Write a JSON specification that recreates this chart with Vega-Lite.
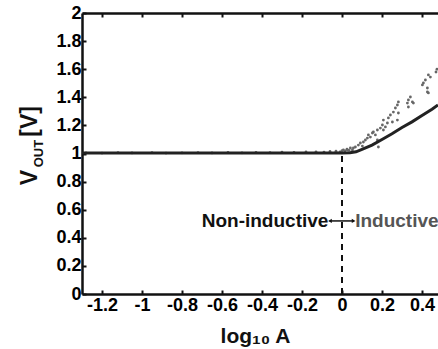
{
  "$schema": "https://vega.github.io/schema/vega-lite/v6.json",
  "width": 356,
  "height": 281,
  "autosize": {"type": "none"},
  "padding": {"left": 82, "top": 13, "right": 0, "bottom": 55},
  "background": "white",
  "config": {
    "font": "Liberation Sans",
    "view": {"stroke": null},
    "axis": {
      "grid": false,
      "domainColor": "#111",
      "domainWidth": 2.5,
      "tickColor": "#111",
      "tickWidth": 2,
      "tickSize": -4,
      "labelFont": "Liberation Sans",
      "labelFontWeight": "bold",
      "labelFontSize": 18,
      "labelColor": "#000",
      "labelOverlap": false,
      "labelFlush": false,
      "titleFont": "Liberation Sans",
      "titleFontWeight": "bold",
      "titleColor": "#111"
    }
  },
  "datasets": {
    "scatter": [
      {"x": -1.28, "y": 1.005}, {"x": -1.2, "y": 1.003}, {"x": -1.12, "y": 1.006}, {"x": -1.05, "y": 1.004},
      {"x": -0.95, "y": 1.006}, {"x": -0.88, "y": 1.003}, {"x": -0.8, "y": 1.005}, {"x": -0.72, "y": 1.006},
      {"x": -0.65, "y": 1.004}, {"x": -0.57, "y": 1.007}, {"x": -0.5, "y": 1.005}, {"x": -0.43, "y": 1.008},
      {"x": -0.36, "y": 1.006}, {"x": -0.3, "y": 1.009}, {"x": -0.24, "y": 1.008}, {"x": -0.18, "y": 1.011},
      {"x": -0.13, "y": 1.012}, {"x": -0.09, "y": 1.01}, {"x": -0.06, "y": 1.014}, {"x": -0.03, "y": 1.016},
      {"x": -0.01, "y": 1.012}, {"x": 0.0, "y": 1.02}, {"x": 0.015, "y": 1.018}, {"x": 0.025, "y": 1.03},
      {"x": 0.035, "y": 1.022},
      {"x": 0.432, "y": 1.559}, {"x": 0.442, "y": 1.544}, {"x": 0.417, "y": 1.523}, {"x": 0.407, "y": 1.502},
      {"x": 0.402, "y": 1.488}, {"x": 0.427, "y": 1.466}, {"x": 0.427, "y": 1.438}, {"x": 0.432, "y": 1.431},
      {"x": 0.47, "y": 1.58}, {"x": 0.475, "y": 1.6},
      {"x": 0.342, "y": 1.402}, {"x": 0.332, "y": 1.381}, {"x": 0.352, "y": 1.367}, {"x": 0.327, "y": 1.359},
      {"x": 0.357, "y": 1.359}, {"x": 0.332, "y": 1.331}, {"x": 0.282, "y": 1.367}, {"x": 0.277, "y": 1.345},
      {"x": 0.267, "y": 1.324}, {"x": 0.257, "y": 1.295}, {"x": 0.282, "y": 1.288}, {"x": 0.242, "y": 1.274},
      {"x": 0.232, "y": 1.253}, {"x": 0.277, "y": 1.238}, {"x": 0.252, "y": 1.224}, {"x": 0.227, "y": 1.217},
      {"x": 0.207, "y": 1.238}, {"x": 0.202, "y": 1.203}, {"x": 0.217, "y": 1.189}, {"x": 0.192, "y": 1.181},
      {"x": 0.207, "y": 1.167}, {"x": 0.177, "y": 1.167}, {"x": 0.157, "y": 1.153}, {"x": 0.152, "y": 1.146},
      {"x": 0.167, "y": 1.132}, {"x": 0.132, "y": 1.132}, {"x": 0.142, "y": 1.117}, {"x": 0.127, "y": 1.11},
      {"x": 0.117, "y": 1.096}, {"x": 0.177, "y": 1.096}, {"x": 0.107, "y": 1.082}, {"x": 0.092, "y": 1.075},
      {"x": 0.082, "y": 1.06}, {"x": 0.102, "y": 1.053}, {"x": 0.067, "y": 1.046}, {"x": 0.057, "y": 1.039},
      {"x": 0.042, "y": 1.039}, {"x": 0.027, "y": 1.025}, {"x": 0.007, "y": 1.025}, {"x": 0.182, "y": 1.046},
      {"x": 0.052, "y": 1.025}
    ],
    "curve": [
      {"x": -1.3, "y": 1.003}, {"x": -1.0, "y": 1.003}, {"x": -0.5, "y": 1.003}, {"x": 0.0, "y": 1.003},
      {"x": 0.04, "y": 1.005}, {"x": 0.07, "y": 1.012}, {"x": 0.1, "y": 1.03}, {"x": 0.15, "y": 1.06},
      {"x": 0.2, "y": 1.1}, {"x": 0.25, "y": 1.14}, {"x": 0.3, "y": 1.185}, {"x": 0.35, "y": 1.225},
      {"x": 0.4, "y": 1.27}, {"x": 0.45, "y": 1.315}, {"x": 0.48, "y": 1.345}
    ]
  },
  "resolve": {"axis": {"x": "independent", "y": "shared"}},
  "layer": [
    {
      "data": {"name": "scatter"},
      "mark": {"type": "point", "filled": true, "shape": "circle", "size": 8, "color": "#666", "opacity": 1},
      "encoding": {
        "x": {
          "field": "x", "type": "quantitative",
          "scale": {"domain": [-1.3, 0.48], "nice": false, "zero": false},
          "axis": {
            "values": [-1.2, -1, -0.8, -0.6, -0.4, -0.2, 0, 0.2, 0.4],
            "labelExpr": "'' + datum.value",
            "labelPadding": 6,
            "labelFontWeight": "bold",
            "labelFontSize": 18,
            "labelColor": "#000",
            "title": "log₁₀ A",
            "titleFontSize": 21,
            "titleX": 173,
            "titleY": 48,
            "titleBaseline": "alphabetic"
          }
        },
        "y": {
          "field": "y", "type": "quantitative", "title": null,
          "scale": {"domain": [0, 2], "nice": false, "zero": false},
          "axis": {"orient": "left", "values": [0, 0.2, 0.4, 0.6, 0.8, 1, 1.2, 1.4, 1.6, 1.8, 2], "labelExpr": "'' + datum.value", "labelPadding": 5, "labelFontWeight": "bold", "labelFontSize": 18, "labelColor": "#000", "labelOverlap": false}
        }
      }
    },
    {
      "data": {"name": "curve"},
      "mark": {"type": "line", "color": "#222", "strokeWidth": 3},
      "encoding": {
        "x": {"field": "x", "type": "quantitative", "scale": {"domain": [-1.3, 0.48], "nice": false, "zero": false}, "axis": null},
        "y": {"field": "y", "type": "quantitative", "title": null, "scale": {"domain": [0, 2], "nice": false, "zero": false},
          "axis": {"orient": "left", "values": [0, 0.2, 0.4, 0.6, 0.8, 1, 1.2, 1.4, 1.6, 1.8, 2], "labelExpr": "'' + datum.value", "labelPadding": 5, "labelFontWeight": "bold", "labelFontSize": 18, "labelColor": "#000", "labelOverlap": false}}
      }
    },
    {
      "data": {"values": [{"x": 0, "y": 0, "y2": 1}]},
      "mark": {"type": "rule", "color": "#111", "strokeWidth": 2, "strokeDash": [6, 5]},
      "encoding": {
        "x": {"field": "x", "type": "quantitative", "scale": {"domain": [-1.3, 0.48], "nice": false, "zero": false}, "axis": null},
        "y": {"field": "y", "type": "quantitative", "title": null, "scale": {"domain": [0, 2], "nice": false, "zero": false},
          "axis": {"orient": "left", "values": [0, 0.2, 0.4, 0.6, 0.8, 1, 1.2, 1.4, 1.6, 1.8, 2], "labelExpr": "'' + datum.value", "labelPadding": 5, "labelFontWeight": "bold", "labelFontSize": 18, "labelColor": "#000", "labelOverlap": false}},
        "y2": {"field": "y2"}
      }
    },
    {
      "data": {"values": [{"x": -0.062, "x2": 0.06, "y": 0.52}]},
      "mark": {"type": "rule", "color": "#111", "strokeWidth": 1.5},
      "encoding": {
        "x": {"field": "x", "type": "quantitative", "scale": {"domain": [-1.3, 0.48], "nice": false, "zero": false}, "axis": null},
        "x2": {"field": "x2"},
        "y": {"field": "y", "type": "quantitative", "title": null, "scale": {"domain": [0, 2], "nice": false, "zero": false},
          "axis": {"orient": "left", "values": [0, 0.2, 0.4, 0.6, 0.8, 1, 1.2, 1.4, 1.6, 1.8, 2], "labelExpr": "'' + datum.value", "labelPadding": 5, "labelFontWeight": "bold", "labelFontSize": 18, "labelColor": "#000", "labelOverlap": false}}
      }
    },
    {
      "data": {"values": [{"x": -0.06, "y": 0.52, "s": "l"}, {"x": 0.058, "y": 0.52, "s": "r"}]},
      "mark": {"type": "point", "filled": true, "size": 18, "color": "#111", "opacity": 1},
      "encoding": {
        "x": {"field": "x", "type": "quantitative", "scale": {"domain": [-1.3, 0.48], "nice": false, "zero": false}, "axis": null},
        "y": {"field": "y", "type": "quantitative", "title": null, "scale": {"domain": [0, 2], "nice": false, "zero": false},
          "axis": {"orient": "left", "values": [0, 0.2, 0.4, 0.6, 0.8, 1, 1.2, 1.4, 1.6, 1.8, 2], "labelExpr": "'' + datum.value", "labelPadding": 5, "labelFontWeight": "bold", "labelFontSize": 18, "labelColor": "#000", "labelOverlap": false}},
        "shape": {"field": "s", "type": "nominal", "scale": {"domain": ["l", "r"], "range": ["triangle-left", "triangle-right"]}, "legend": null}
      }
    },
    {
      "data": {"values": [{"x": -0.068, "y": 0.475, "label": "Non-inductive"}]},
      "mark": {"type": "text", "align": "right", "baseline": "alphabetic", "fontSize": 19, "fontWeight": "bold", "color": "#111", "font": "Liberation Sans"},
      "encoding": {
        "x": {"field": "x", "type": "quantitative", "scale": {"domain": [-1.3, 0.48], "nice": false, "zero": false}, "axis": null},
        "y": {"field": "y", "type": "quantitative", "title": null, "scale": {"domain": [0, 2], "nice": false, "zero": false},
          "axis": {"orient": "left", "values": [0, 0.2, 0.4, 0.6, 0.8, 1, 1.2, 1.4, 1.6, 1.8, 2], "labelExpr": "'' + datum.value", "labelPadding": 5, "labelFontWeight": "bold", "labelFontSize": 18, "labelColor": "#000", "labelOverlap": false}},
        "text": {"field": "label"}
      }
    },
    {
      "data": {"values": [{"x": 0.066, "y": 0.475, "label": "Inductive"}]},
      "mark": {"type": "text", "align": "left", "baseline": "alphabetic", "fontSize": 19, "fontWeight": "bold", "color": "#555", "font": "Liberation Sans"},
      "encoding": {
        "x": {"field": "x", "type": "quantitative", "scale": {"domain": [-1.3, 0.48], "nice": false, "zero": false}, "axis": null},
        "y": {"field": "y", "type": "quantitative", "title": null, "scale": {"domain": [0, 2], "nice": false, "zero": false},
          "axis": {"orient": "left", "values": [0, 0.2, 0.4, 0.6, 0.8, 1, 1.2, 1.4, 1.6, 1.8, 2], "labelExpr": "'' + datum.value", "labelPadding": 5, "labelFontWeight": "bold", "labelFontSize": 18, "labelColor": "#000", "labelOverlap": false}},
        "text": {"field": "label"}
      }
    },
    {
      "data": {"values": [{"x": -1.5235, "y": 0.774, "label": "V"}, {"x": -1.5235, "y": 1.12, "label": "[V]"}]},
      "mark": {"type": "text", "angle": 270, "align": "left", "baseline": "alphabetic", "fontSize": 23, "fontWeight": "bold", "color": "#111", "font": "Liberation Sans"},
      "encoding": {
        "x": {"field": "x", "type": "quantitative", "scale": {"domain": [-1.3, 0.48], "nice": false, "zero": false}, "axis": null},
        "y": {"field": "y", "type": "quantitative", "title": null, "scale": {"domain": [0, 2], "nice": false, "zero": false},
          "axis": {"orient": "left", "values": [0, 0.2, 0.4, 0.6, 0.8, 1, 1.2, 1.4, 1.6, 1.8, 2], "labelExpr": "'' + datum.value", "labelPadding": 5, "labelFontWeight": "bold", "labelFontSize": 18, "labelColor": "#000", "labelOverlap": false}},
        "text": {"field": "label"}
      }
    },
    {
      "data": {"values": [{"x": -1.4935, "y": 0.902, "label": "OUT"}]},
      "mark": {"type": "text", "angle": 270, "align": "left", "baseline": "alphabetic", "fontSize": 13, "fontWeight": "bold", "color": "#111", "font": "Liberation Sans"},
      "encoding": {
        "x": {"field": "x", "type": "quantitative", "scale": {"domain": [-1.3, 0.48], "nice": false, "zero": false}, "axis": null},
        "y": {"field": "y", "type": "quantitative", "title": null, "scale": {"domain": [0, 2], "nice": false, "zero": false},
          "axis": {"orient": "left", "values": [0, 0.2, 0.4, 0.6, 0.8, 1, 1.2, 1.4, 1.6, 1.8, 2], "labelExpr": "'' + datum.value", "labelPadding": 5, "labelFontWeight": "bold", "labelFontSize": 18, "labelColor": "#000", "labelOverlap": false}},
        "text": {"field": "label"}
      }
    },
    {
      "data": {"values": [{"x": 0}]},
      "mark": {"type": "point", "opacity": 0},
      "encoding": {
        "x": {
          "field": "x", "type": "quantitative",
          "scale": {"domain": [-1.3, 0.48], "nice": false, "zero": false},
          "axis": {
            "orient": "top",
            "values": [-1.2, -1, -0.8, -0.6, -0.4, -0.2, 0, 0.2, 0.4],
            "labels": false,
            "title": null
          }
        }
      }
    }
  ]
}
